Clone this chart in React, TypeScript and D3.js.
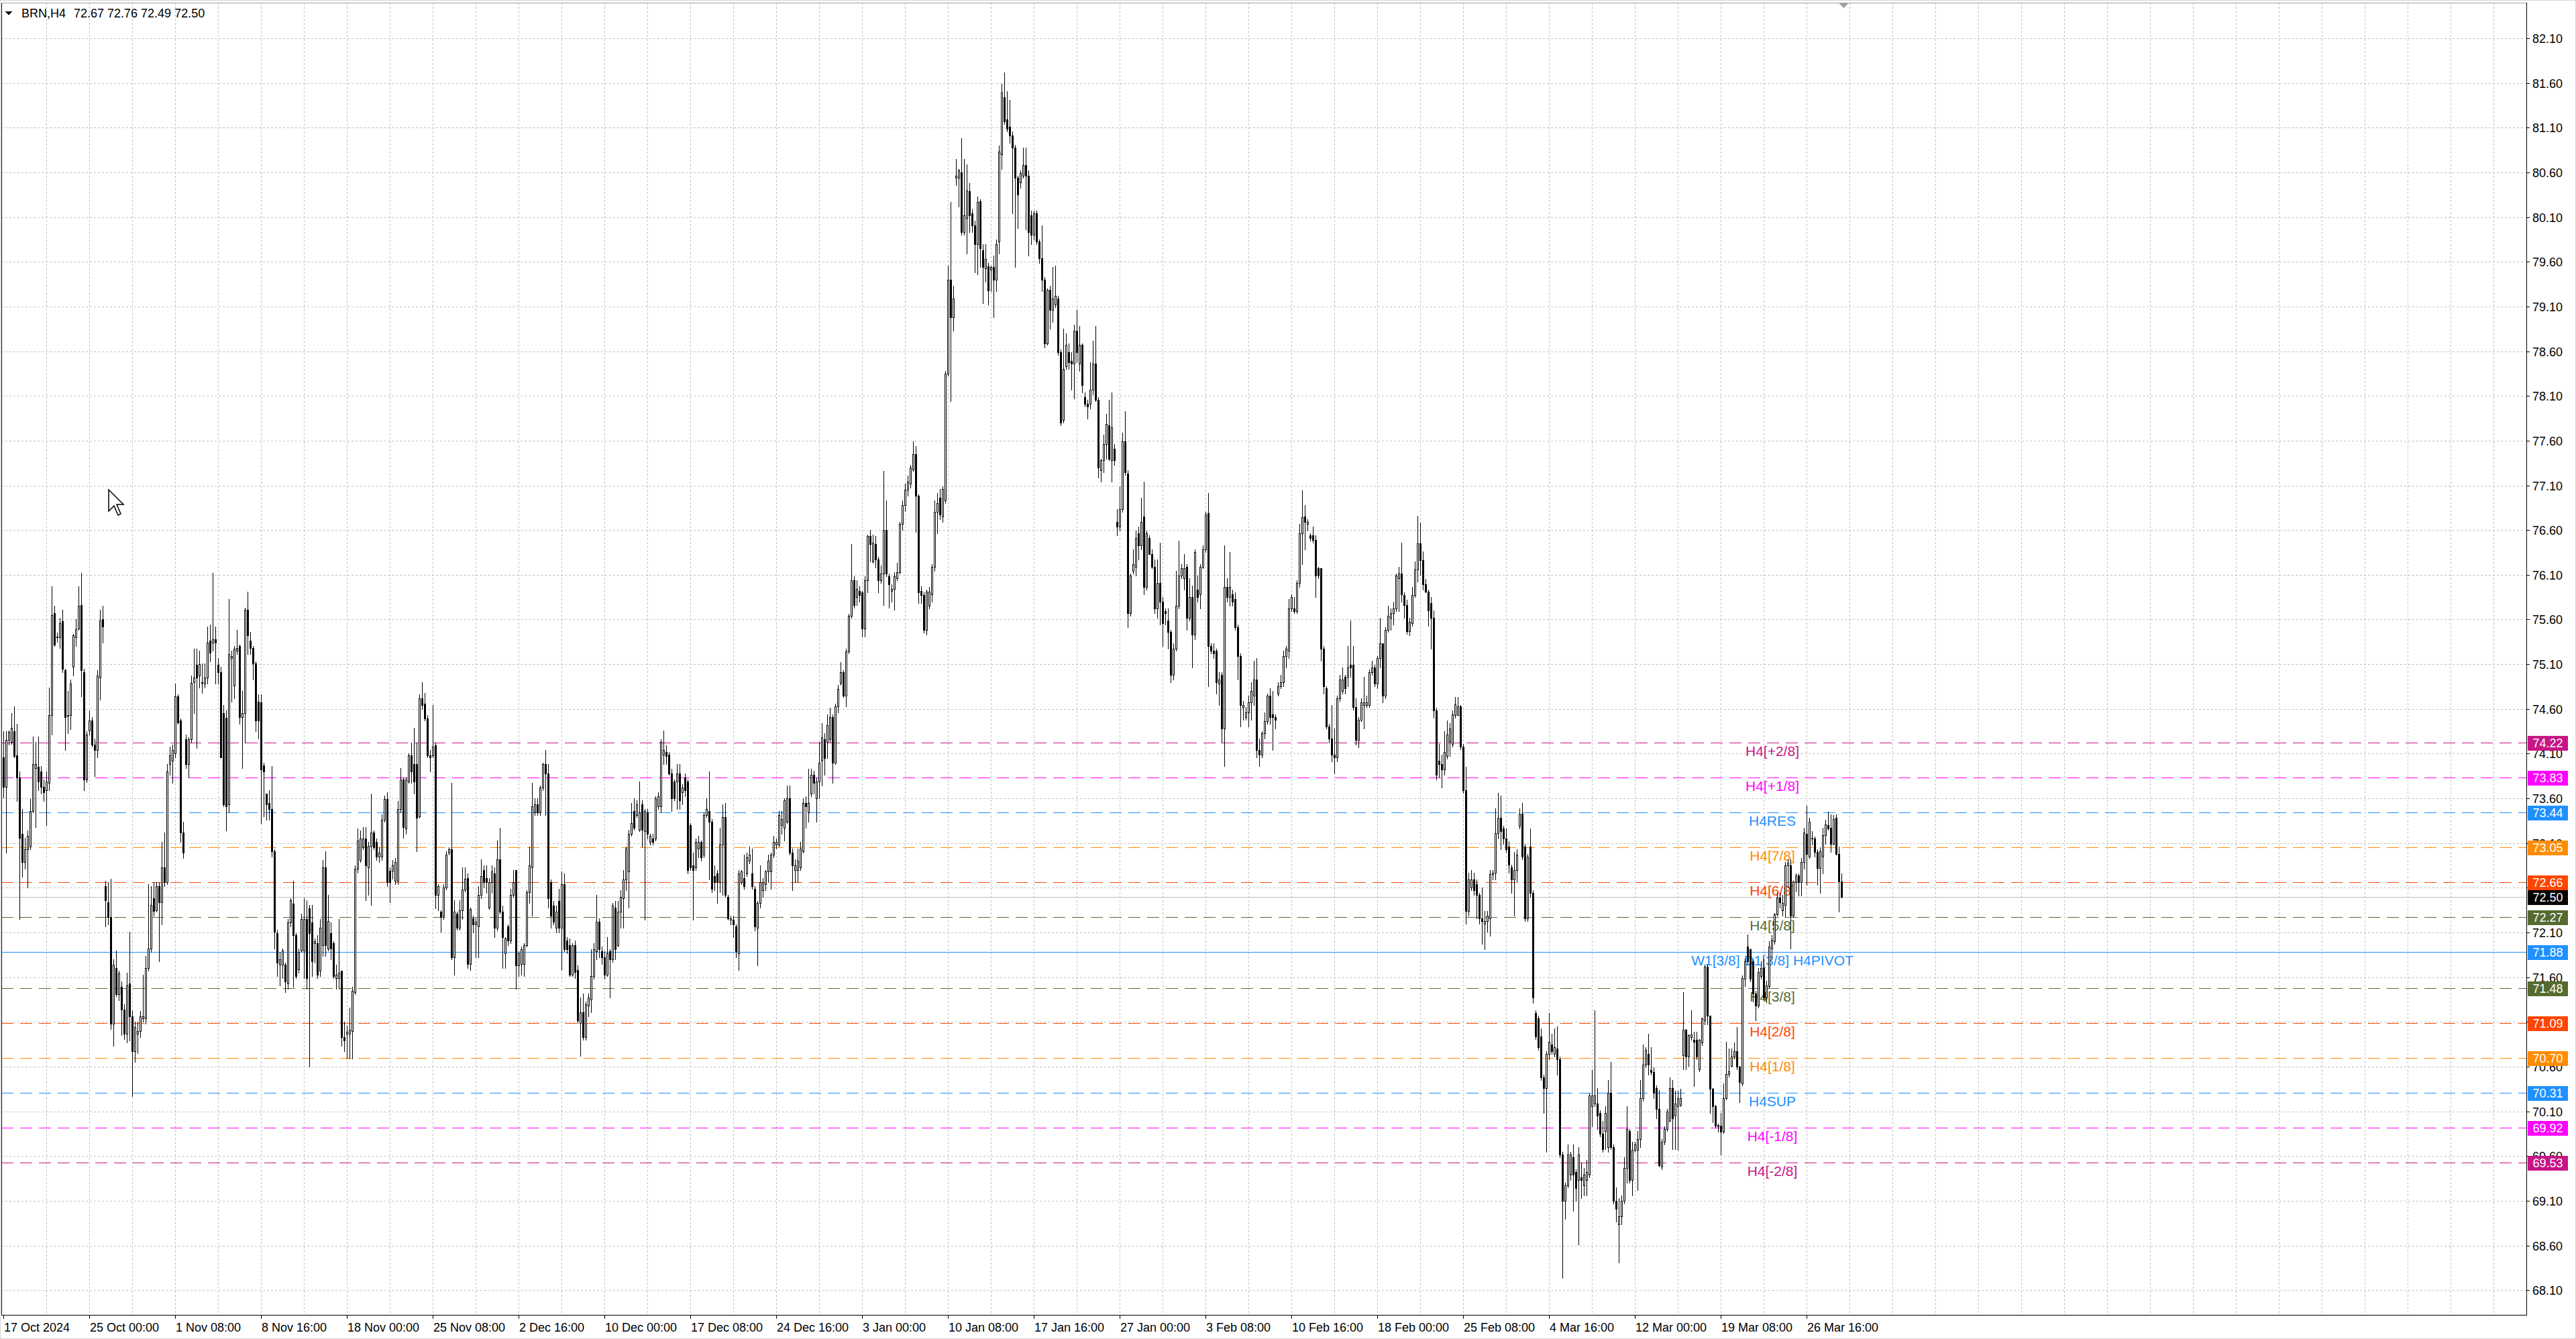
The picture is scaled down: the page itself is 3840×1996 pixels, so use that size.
import React from 'react';
import * as d3 from 'd3';

type Bar = [number, number, number, number]; // open, high, low, close

// BRN H4 candles, 17 Oct 2024 .. 28 Mar 2025
const segOctRoll: Bar[] = [
  [74.06,74.35,73.61,73.73],[73.73,74.35,72.99,74.25],[74.25,74.36,74.20,74.34],[74.23,74.55,74.21,74.39],
  [74.35,74.63,74.06,74.07],[74.08,74.43,73.57,73.83],[73.83,73.90,72.25,73.16],[73.20,73.48,72.72,72.89],
  [72.89,73.16,72.81,73.03],[73.03,73.24,72.60,73.18],[73.07,73.59,73.03,73.46],[73.46,74.29,73.44,73.98],
  [73.94,74.23,73.28,73.98],[73.95,74.29,73.69,73.79],[73.90,73.96,73.65,73.73],[73.73,73.81,73.57,73.67],
  [73.69,73.90,73.30,73.79],[73.77,74.84,73.69,74.53],[74.53,75.97,74.31,75.65],[75.67,75.75,75.30,75.32],
  [75.41,75.45,75.35,75.40],[75.40,75.62,75.28,75.56],[75.58,75.71,75.01,75.05],[75.03,75.05,74.14,74.51],
  [74.53,74.80,74.33,74.52],[74.53,74.93,74.37,74.88],[75.07,75.44,74.97,75.42],[75.40,75.60,75.30,75.49],
  [75.50,75.97,75.48,75.75],[75.76,76.12,74.74,75.03],[75.01,75.05,73.69,73.81],[73.81,74.35,73.78,74.31],
  [74.36,74.58,74.31,74.47],[74.47,74.51,74.18,74.20],[74.20,74.27,73.85,74.14],[74.14,75.03,74.06,74.97],
  [74.95,75.71,74.70,75.59],[75.60,75.75,75.34,75.52],
];

const segNovDec: Bar[] = [
  [72.62,72.68,72.17,72.46],[72.44,72.66,72.19,72.27],[72.27,72.70,71.02,71.08],[71.08,71.80,70.83,71.74],
  [71.70,71.90,71.39,71.41],[71.41,71.67,71.34,71.64],[71.49,71.55,70.95,71.24],[71.24,71.30,70.91,70.97],
  [70.97,71.65,70.87,71.51],[71.53,72.11,70.89,71.16],[71.16,71.22,70.27,70.77],[70.77,71.10,70.65,71.04],
  [70.97,71.10,70.75,71.00],[71.00,71.22,70.93,71.16],[71.14,71.63,71.10,71.16],[71.14,71.84,71.08,71.70],
  [71.70,72.64,71.67,71.92],[71.92,72.62,71.88,72.41],[72.48,72.66,72.29,72.34],[72.35,72.66,72.33,72.62],
  [72.62,72.66,71.78,72.44],[72.44,73.11,72.19,72.83],[72.83,73.22,72.62,72.66],[72.66,73.98,72.64,73.90],
  [73.98,74.18,73.86,74.08],[74.02,74.20,73.77,74.14],[74.10,74.88,74.06,74.74],[74.74,74.76,74.43,74.45],
  [74.47,74.49,73.11,73.22],[73.22,73.34,72.93,72.99],[74.26,74.31,73.94,73.98],[73.98,74.28,73.83,74.26],
  [74.26,74.97,74.22,74.89],[74.90,75.27,74.55,74.95],[75.09,75.27,74.16,74.95],[74.97,75.25,74.84,75.10],
  [74.90,75.11,74.78,74.89],[74.88,75.11,74.84,74.95],[74.95,75.52,74.88,75.34],[75.36,75.54,75.13,75.23],
  [75.34,76.12,75.25,75.38],[75.38,75.52,74.88,75.34],[75.09,75.17,74.88,75.01],[75.01,75.07,74.06,74.06],
  [74.55,74.64,73.51,73.53],[74.50,74.58,73.24,73.51],[73.53,75.83,73.44,75.21],[75.17,75.25,74.68,75.19],
  [74.86,75.30,74.72,75.27],[75.25,75.48,75.21,75.28],[75.30,75.32,74.43,74.51],[74.51,74.80,73.94,74.55],
  [74.55,75.73,74.22,75.71],[75.71,75.91,75.21,75.42],[75.36,75.46,75.21,75.28],[75.28,75.30,74.93,75.11],
  [75.11,75.13,74.35,74.47],[74.68,74.76,74.27,74.47],[74.67,74.76,73.32,73.92],[73.97,74.00,73.40,73.90],
  [73.65,73.65,73.36,73.53],[73.55,73.69,73.36,73.48],[73.48,73.96,72.95,73.01],[73.01,73.03,71.92,72.11],
  [72.09,72.13,71.61,71.76],[71.74,71.88,71.51,71.80],[71.74,71.92,71.59,71.90],[71.74,71.76,71.43,71.55],
  [71.53,72.25,71.47,72.21],[72.21,72.48,72.17,72.46],[72.42,72.68,71.49,72.07],[72.07,72.09,71.59,71.61],
  [71.69,71.92,71.65,71.88],[71.90,72.31,71.88,72.25],[71.90,72.48,71.59,72.25],[72.25,72.46,71.47,71.59],
  [72.37,72.41,70.60,72.09],[72.21,72.41,71.61,71.78],[71.98,72.03,71.76,72.00],[71.98,72.07,71.59,71.63],
  [71.67,72.25,71.61,72.15],[71.96,72.91,71.84,72.83],[72.83,73.01,71.84,71.96],[71.92,72.52,71.90,72.23],
  [72.09,72.21,71.80,71.92],[71.98,72.00,71.59,71.61],[71.59,71.74,71.47,71.63],[71.59,72.25,71.47,71.65],
  [71.67,71.67,70.83,70.93],[70.93,71.10,70.77,70.89],[70.97,71.06,70.69,70.99],[70.97,71.26,70.69,71.01],
  [71.00,71.49,70.69,71.45],[71.43,72.85,71.41,72.81],[72.81,73.26,72.77,73.13],[72.91,73.24,72.89,73.15],
  [73.05,73.28,73.03,73.15],[73.15,73.28,72.46,72.85],[72.83,73.11,72.52,73.07],[73.07,73.65,72.41,73.22],
  [73.22,73.24,73.03,73.05],[73.11,73.15,72.91,72.95],[72.95,73.05,72.89,72.99],[72.95,73.42,72.91,73.36],
  [73.36,73.63,73.34,73.59],[73.59,73.67,72.62,72.66],[72.79,72.83,72.44,72.66],[72.79,72.91,72.70,72.85],
  [72.68,72.93,72.64,72.89],[72.68,73.57,72.64,73.48],[73.48,73.94,73.44,73.81],[73.81,73.83,73.16,73.28],
  [73.26,73.83,73.20,73.81],[73.79,74.10,73.77,74.08],[74.08,74.22,73.77,73.90],[73.98,74.39,73.65,73.79],
  [73.98,74.22,73.01,73.38],[73.40,74.76,73.38,74.72],[74.72,74.90,74.60,74.64],[74.66,74.78,74.47,74.49],
  [74.49,74.53,74.06,74.08],[74.08,74.14,73.90,74.06],[74.08,74.64,74.06,74.18],[74.19,74.22,72.37,72.52],
  [72.52,72.64,72.35,72.62],[72.33,72.35,72.11,72.27],[72.29,72.64,72.25,72.60],[72.60,73.01,72.58,72.97],
  [72.99,73.05,72.97,73.03],[73.03,73.77,71.80,71.82],[71.82,72.46,71.63,72.33],[72.31,72.33,72.13,72.15],
  [72.15,72.46,72.13,72.35],[72.35,72.83,72.25,72.58],[72.58,72.83,72.56,72.70],
];

const segDecJan: Bar[] = [
  [72.71,72.76,71.70,71.75],[71.75,72.38,71.68,72.36],[72.26,72.29,72.10,72.19],[72.19,72.26,71.82,72.22],
  [72.17,72.62,71.82,72.52],[72.52,72.92,72.48,72.73],[72.80,72.85,72.60,72.66],[72.71,72.85,72.54,72.66],
  [72.38,72.71,72.36,72.66],[72.66,72.85,72.54,72.78],[72.76,72.83,72.05,72.15],[72.15,73.13,72.12,72.92],
  [72.92,73.27,72.31,72.33],[72.33,72.40,71.70,72.05],[71.87,72.05,71.70,72.03],[72.17,72.19,71.96,72.01],
  [72.01,72.59,71.98,72.52],[72.52,72.80,72.50,72.66],[72.80,72.80,71.47,71.73],[71.73,71.89,71.61,71.87],
  [71.75,71.94,71.63,71.91],[71.75,71.98,71.61,71.96],[71.96,72.57,71.94,72.55],[72.55,73.06,72.43,72.85],
  [72.83,73.77,72.29,73.51],[73.44,73.60,73.41,73.53],[73.53,73.60,73.41,73.44],[73.44,73.74,73.41,73.72],
  [73.72,74.00,73.69,73.98],[73.98,74.14,73.41,73.88],[73.88,73.98,72.38,72.48],[72.66,72.69,72.15,72.29],
  [72.40,72.45,72.19,72.22],[72.15,72.40,72.10,72.33],[72.45,72.59,72.10,72.15],[72.15,72.78,71.68,72.64],
  [72.64,72.76,71.89,71.91],[72.01,72.05,71.87,71.91],[71.96,72.03,71.61,71.63],[71.63,71.98,71.61,71.96],
  [71.96,72.01,71.59,71.66],[71.68,71.73,71.09,71.12],[71.09,71.37,70.72,71.21],[71.21,71.42,70.90,70.93],
  [70.93,71.33,70.90,71.30],[71.28,71.42,71.16,71.37],[71.35,71.91,71.21,71.61],[71.61,71.98,71.58,71.91],
  [71.89,72.52,71.80,72.22],[72.22,72.26,71.82,71.91],[71.89,71.94,71.75,71.82],[71.82,71.89,71.58,71.63],
  [71.63,72.05,71.61,71.87],[71.89,71.91,71.37,71.80],[71.80,72.43,71.77,72.40],[72.38,72.45,71.80,71.91],
  [71.96,72.45,71.94,72.33],[72.33,72.57,72.15,72.50],[72.48,72.80,72.15,72.69],[72.69,73.06,72.57,73.04],
  [72.78,73.25,72.38,73.20],[73.20,73.55,73.18,73.32],[73.46,73.60,73.25,73.27],[73.41,73.58,73.39,73.53],
  [73.25,73.79,73.23,73.44],[73.53,73.58,73.06,73.25],[73.23,73.48,72.24,73.46],[73.44,73.48,73.15,73.20],
  [73.11,73.20,73.08,73.18],[73.15,73.20,73.08,73.11],[73.15,73.62,73.13,73.60],[73.51,73.67,73.48,73.62],
  [73.51,74.26,73.44,74.23],[74.09,74.36,73.98,74.14],[74.12,74.19,73.98,74.07],[74.09,74.12,73.86,73.88],
  [73.88,73.93,73.46,73.60],[73.79,73.81,73.58,73.60],[73.79,73.98,73.48,73.88],[73.88,73.98,73.48,73.58],
  [73.67,73.76,73.53,73.72],[73.83,73.88,73.62,73.69],[73.79,73.81,72.76,72.80],[73.30,73.32,72.80,72.83],
  [72.85,72.99,72.24,72.80],[72.83,73.15,72.80,73.11],[73.04,73.18,72.94,73.11],[73.11,73.13,72.90,72.94],
  [72.97,73.44,72.94,73.41],[73.41,73.60,73.39,73.48],[73.46,73.90,72.69,73.34],[73.34,73.37,72.55,72.59],
  [72.73,72.85,72.57,72.66],[72.76,72.80,72.43,72.66],[72.66,73.27,72.55,73.08],[73.08,73.53,72.52,73.39],
  [73.39,73.55,72.50,72.52],[72.50,72.52,72.24,72.26],[72.24,72.29,72.19,72.26],[72.24,72.29,72.05,72.19],
  [72.17,72.19,71.82,71.89],[71.87,72.80,71.68,72.76],[72.66,72.80,72.64,72.78],[72.71,72.97,72.59,72.62],
  [72.76,72.99,72.73,72.94],[72.90,73.06,72.87,72.97],[72.76,73.04,72.59,72.62],[72.59,72.62,72.12,72.17],
  [72.15,72.45,71.73,72.43],[72.43,72.85,72.38,72.66],[72.57,72.71,72.50,72.66],[72.64,72.80,72.57,72.78],
  [72.78,72.97,72.66,72.90],[72.78,72.99,72.59,72.97],[72.97,73.18,72.94,73.11],[73.08,73.15,73.04,73.11],
  [73.08,73.46,73.06,73.41],[73.30,73.46,73.20,73.37],[73.27,73.60,73.13,73.58],[73.34,73.74,73.32,73.60],
  [73.60,73.74,72.97,72.99],[72.99,73.04,72.57,72.85],[72.80,72.92,72.66,72.85],[72.80,73.04,72.66,72.90],
  [72.83,73.11,72.80,73.04],[73.01,73.60,72.99,73.55],[73.55,73.62,73.27,73.51],[73.44,73.93,73.34,73.55],
  [73.65,73.93,73.62,73.86],[73.86,73.91,73.65,73.77],[73.60,73.83,73.34,73.79],[73.79,74.23,73.60,74.00],
  [74.02,74.44,73.74,74.28],[74.26,74.33,73.86,74.05],[74.23,74.54,74.05,74.42],[74.26,74.61,74.23,74.51],
  [74.51,74.54,73.77,74.00],[74.00,74.66,73.98,74.63],[74.63,74.87,74.56,74.82],[74.89,75.12,74.87,75.01],
  [75.01,75.03,74.73,74.75],[74.75,75.27,74.63,75.24],[75.24,75.66,75.22,75.64],[75.64,76.44,75.62,76.04],
  [76.04,76.08,75.73,75.76],[75.85,76.04,75.76,75.94],[75.92,75.97,75.80,75.87],[75.90,75.92,75.41,75.50],
  [75.50,76.08,75.41,76.04],[76.04,76.55,75.90,76.53],[76.53,76.60,76.25,76.44],[76.25,76.55,76.23,76.46],
  [76.44,76.53,76.18,76.27],[76.27,76.30,75.90,76.04],[76.04,76.20,76.01,76.11],[76.11,77.26,75.76,76.60],
  [76.60,76.93,76.08,76.11],[76.08,76.11,75.73,75.99],[75.92,75.99,75.80,75.94],[75.94,76.13,75.71,76.08],
  [76.06,76.23,76.04,76.13],[76.13,76.69,76.11,76.67],[76.67,76.93,76.60,76.88],[76.88,77.12,76.81,77.05],
  [77.05,77.21,76.98,77.14],[77.12,77.33,77.07,77.30],[77.28,77.59,77.26,77.45],[77.45,77.54,76.58,76.98],
  [76.98,77.00,75.78,75.90],[75.92,75.97,75.78,75.87],[75.87,75.90,75.45,75.48],
];

const segJanFeb: Bar[] = [
  [75.48,75.93,75.43,75.91],[75.75,75.96,75.72,75.91],[75.88,76.22,75.80,76.19],[76.19,76.93,76.14,76.80],
  [76.80,77.01,76.56,76.90],[76.96,77.06,76.72,76.77],[76.75,77.09,76.69,77.06],[76.93,78.38,76.90,78.35],
  [78.35,79.56,78.33,79.40],[79.40,80.27,78.04,78.98],[78.98,79.33,78.83,79.19],[80.54,80.75,80.46,80.56],
  [80.54,80.64,80.22,80.62],[80.60,80.98,79.90,79.93],[79.93,80.75,79.90,80.12],[80.09,80.69,79.69,80.40],
  [80.39,80.48,79.93,80.12],[80.14,80.19,79.93,80.01],[80.01,80.06,79.48,79.80],[79.80,80.33,79.46,80.27],
  [80.28,80.30,79.54,79.75],[79.73,79.80,79.14,79.54],[79.53,79.80,79.38,79.63],[79.55,79.59,79.12,79.28],
  [79.51,79.56,79.27,79.54],[79.54,79.67,78.98,79.40],[79.40,79.85,79.27,79.80],[79.83,80.90,79.69,80.83],
  [80.80,81.59,80.64,81.49],[81.44,81.72,81.14,81.17],[81.19,81.51,81.06,81.09],[81.11,81.41,80.93,81.01],
  [81.01,81.06,80.14,80.88],[80.88,80.91,79.54,80.54],[80.54,80.56,79.98,80.35],[80.49,80.62,80.43,80.59],
  [80.56,80.88,80.54,80.68],[80.68,80.88,79.96,80.56],[80.56,80.62,79.67,79.93],[80.12,80.17,79.80,79.90],
  [79.90,80.17,79.85,80.14],[80.14,80.17,79.80,79.83],[79.83,79.85,79.59,79.64],[79.64,80.01,79.27,79.40],
  [79.40,79.43,78.64,78.69],[78.69,79.30,78.67,79.29],[79.29,79.33,78.85,79.06],[79.06,79.54,78.93,79.19],
  [79.12,79.56,79.09,79.22],[79.19,79.22,78.56,78.59],[78.59,78.62,77.77,77.80],[77.83,78.85,77.80,78.40],
  [78.43,78.80,78.40,78.67],[78.59,78.69,78.40,78.48],[78.49,78.59,78.17,78.46],[78.46,78.90,78.07,78.83],
  [78.83,79.06,78.48,78.59],[78.46,78.88,78.38,78.67],[78.67,78.69,78.14,78.22],[78.09,78.14,77.98,78.01],
  [78.01,78.06,77.85,77.98],[78.01,78.48,77.96,78.17],[78.17,78.72,78.12,78.46],[78.46,78.88,78.04,78.06],
  [78.06,78.09,77.19,77.30],[77.27,77.40,77.14,77.38],[77.38,77.67,77.25,77.56],[77.56,77.90,77.40,77.79],
  [77.77,78.06,77.38,77.40],[77.38,78.14,77.14,77.75],[77.51,77.56,77.33,77.38],[76.69,76.83,76.54,76.64],
  [76.64,77.09,76.59,76.83],[76.83,77.69,76.80,77.59],[77.59,77.93,77.22,77.25],[77.23,77.27,75.51,75.67],
  [75.67,76.11,75.64,76.09],[76.14,76.38,76.11,76.22],[76.19,76.59,76.09,76.51],[76.56,76.64,76.27,76.43],
  [76.43,76.96,76.38,76.69],[76.75,77.14,75.88,75.96],[75.96,76.59,75.93,76.56],[76.51,76.54,76.33,76.33],
  [76.33,76.38,76.17,76.19],[76.19,76.27,75.67,75.72],[75.72,76.27,75.62,76.01],[76.01,76.46,75.54,75.80],
  [75.80,75.85,75.30,75.56],[75.69,75.72,75.54,75.67],[75.59,75.72,75.27,75.46],[75.46,75.48,74.90,74.98],
  [74.98,75.33,74.93,75.27],[75.27,76.14,75.25,75.75],[75.75,76.48,75.72,76.09],[76.09,76.22,76.06,76.17],
  [76.06,76.33,75.93,76.17],[76.19,76.22,75.48,75.62],[75.62,76.06,75.59,75.85],[75.85,75.98,75.06,75.43],
  [75.43,76.38,75.38,76.35],[75.93,76.09,75.80,75.85],[75.88,76.22,75.72,76.19],[76.19,76.43,76.17,76.38],
  [76.38,76.80,76.35,76.77],[76.79,77.01,74.85,75.30],[75.30,75.33,75.22,75.25],[75.25,75.33,75.17,75.22],
  [75.25,75.27,74.77,74.90],[74.88,75.01,74.64,74.93],[74.98,75.01,74.22,74.38],[74.38,76.43,73.96,75.96],
  [75.96,76.06,75.80,75.85],[75.85,76.35,75.75,75.96],[75.88,75.93,75.75,75.80],[75.83,75.90,75.48,75.51],
  [75.51,75.54,74.93,75.19],[75.19,75.22,74.40,74.64],[74.62,74.69,74.48,74.64],[74.51,74.62,74.48,74.56],
  [74.56,74.75,74.40,74.67],[74.67,74.90,74.48,74.80],[74.75,75.14,74.64,74.93],[74.93,75.17,74.06,74.14],
  [74.14,74.27,73.96,74.09],[74.09,74.35,74.06,74.33],[74.33,74.56,74.27,74.46],[74.46,74.77,74.43,74.75],
  [74.75,74.83,74.43,74.51],[74.54,74.80,74.14,74.51],[74.51,74.54,74.38,74.48],[74.77,74.90,74.75,74.85],
  [74.85,74.98,74.83,74.90],[74.90,75.25,74.85,75.19],[75.19,75.30,75.06,75.27],[75.25,75.83,75.17,75.72],
  [75.72,75.88,75.69,75.85],[75.72,75.85,75.67,75.69],[75.69,76.04,75.67,76.01],[76.01,76.67,75.96,76.56],
  [76.56,77.04,76.22,76.74],[76.75,76.88,76.38,76.69],[76.67,76.72,76.59,76.69],[76.54,76.56,76.48,76.51],
  [76.54,76.64,76.46,76.49],[76.49,76.54,75.85,76.09],[76.17,76.19,76.06,76.09],[76.17,76.17,75.14,75.27],
  [75.27,75.30,74.77,74.85],[74.83,74.85,74.38,74.40],[74.40,74.43,74.22,74.27],[74.27,74.64,74.01,74.09],
  [74.09,74.38,73.88,74.06],[74.06,74.75,74.01,74.72],[74.72,74.98,74.69,74.93],[74.80,75.06,74.77,74.93],
  [74.96,74.98,74.77,74.83],[74.96,75.30,74.85,75.06],[75.09,75.59,74.96,75.06],[75.09,75.30,74.59,74.62],
  [74.62,74.72,74.20,74.25],[74.25,74.51,74.17,74.48],[74.48,74.72,74.46,74.67],[74.64,74.96,74.38,74.67],
  [74.64,74.75,74.62,74.67],[74.64,75.04,74.62,75.01],[75.01,75.14,74.98,75.06],[75.06,75.09,74.85,74.88],
  [74.88,75.19,74.83,75.17],[75.17,75.62,75.06,75.33],[75.33,75.33,74.67,74.75],[74.75,75.51,74.72,75.48],
  [75.48,75.75,75.46,75.64],[75.62,75.72,75.48,75.67],[75.67,75.80,75.54,75.72],[75.72,76.11,75.69,76.09],
  [76.06,76.19,75.69,76.11],[76.11,76.46,75.80,75.88],
];

const segFebMar: Bar[] = [
  [75.87,75.90,75.62,75.76],[75.76,75.82,75.44,75.47],[75.47,75.62,75.42,75.57],[75.56,75.96,75.53,75.87],
  [75.87,76.25,75.85,76.16],[76.16,76.76,76.02,76.45],[76.45,76.68,76.10,76.26],[76.26,76.36,75.93,75.99],
  [75.99,76.05,75.90,75.91],[75.91,75.93,75.53,75.70],[75.78,75.85,75.27,75.62],[75.62,75.70,74.50,74.58],
  [74.58,74.61,73.81,73.86],[74.02,74.21,73.84,73.98],[73.98,74.09,73.72,73.92],[73.92,74.35,73.86,74.12],
  [74.07,74.47,74.04,74.31],[74.24,74.44,74.07,74.38],[74.21,74.58,74.18,74.54],[74.53,74.73,74.50,74.65],
  [74.53,74.73,74.53,74.63],[74.63,74.64,74.15,74.18],[74.18,74.21,73.66,73.69],[73.69,73.95,72.20,72.34],
  [72.34,72.77,72.29,72.69],[72.60,72.80,72.57,72.69],[72.69,72.77,72.52,72.57],[72.64,72.69,72.26,72.52],
  [72.52,72.54,72.20,72.26],[72.26,72.60,71.97,72.23],[72.20,72.34,71.91,72.23],[72.23,72.34,72.11,72.29],
  [72.26,72.80,72.06,72.75],[72.75,72.80,72.69,72.77],[72.77,73.49,72.69,73.21],[73.21,73.66,73.15,73.38],
  [73.38,73.63,73.03,73.23],[73.26,73.29,73.09,73.15],[73.15,73.26,73.00,73.03],[73.06,73.12,72.77,72.86],
  [72.83,72.86,72.54,72.69],[72.69,73.00,72.29,72.80],[72.80,73.03,72.66,72.97],[73.29,73.49,73.26,73.43],
  [73.43,73.55,72.92,72.95],[73.06,73.09,72.23,72.26],[72.26,72.98,72.23,72.95],[73.06,73.26,72.50,72.54],
  [72.54,72.57,71.31,71.37],[71.20,71.23,70.91,70.94],[71.14,71.17,70.79,70.82],[70.94,71.03,70.45,70.48],
  [70.48,70.51,70.08,70.36],[70.36,70.77,69.65,70.74],[70.74,71.20,70.68,70.88],[70.85,70.97,70.74,70.77],
  [70.74,71.03,70.71,70.82],[70.80,71.05,70.51,70.68],[70.68,70.71,69.59,69.62],[69.62,69.65,68.24,69.10],
  [69.10,69.30,68.90,69.27],[69.27,69.73,69.25,69.62],[69.39,69.65,69.33,69.62],[69.59,69.73,68.99,69.39],
  [69.42,69.45,69.10,69.24],[69.33,69.70,68.61,69.62],[69.36,69.53,69.13,69.33],[69.27,69.47,69.16,69.39],
  [69.33,69.56,69.16,69.42],[69.39,70.30,69.36,70.28],[70.16,70.56,69.93,70.28],[70.19,71.23,70.16,70.28],
  [70.19,70.36,69.90,70.05],[70.08,70.11,69.82,69.85],[69.85,69.99,69.65,69.68],[69.88,70.16,69.68,70.08],
  [69.70,70.45,69.65,70.31],[70.31,70.65,69.68,69.70],[69.70,69.73,69.07,69.10],[69.10,69.25,68.87,69.01],
  [68.84,69.13,68.41,68.93],[68.93,69.16,68.84,69.10],[69.10,69.59,69.07,69.47],[69.47,70.16,69.30,69.90],
  [69.88,69.90,69.30,69.33],[69.33,69.76,69.16,69.67],[69.67,69.76,69.65,69.73],[69.67,69.88,69.22,69.79],
  [69.79,70.45,69.70,70.25],[70.25,70.85,70.22,70.62],[70.62,70.82,70.59,70.79],[70.74,70.97,70.51,70.62],
  [70.56,70.82,70.51,70.54],[70.54,70.59,70.25,70.31],[70.36,70.39,70.02,70.13],[70.13,70.34,69.48,69.50],
  [69.48,69.79,69.45,69.76],[69.76,69.93,69.73,69.90],[69.90,70.13,69.88,70.10],[69.99,70.48,69.99,70.36],
  [70.36,70.45,69.68,70.02],[70.05,70.33,69.68,70.19],
];

const segMarch: Bar[] = [
  [70.16,70.33,69.67,70.25],[70.17,70.35,70.16,70.25],[70.73,71.43,70.57,71.01],[71.01,71.02,70.57,70.71],
  [70.71,70.96,70.61,70.95],[70.93,71.23,70.90,70.96],[70.90,70.99,70.38,70.88],[70.90,70.99,70.68,70.71],
  [70.57,70.91,70.55,70.90],[70.87,71.15,70.84,71.14],[71.12,71.74,71.07,71.72],[71.72,71.74,71.07,71.17],
  [71.17,71.17,70.08,70.35],[70.35,70.36,69.98,70.16],[70.16,70.17,69.92,69.94],[69.93,69.96,69.87,69.95],
  [69.94,70.08,69.62,69.87],[69.87,70.41,69.86,70.25],[70.25,70.88,70.23,70.52],[70.52,70.80,70.49,70.55],
  [70.61,70.80,70.60,70.71],[70.71,70.87,70.69,70.77],[70.77,71.04,70.57,70.60],[70.60,70.61,70.20,70.43],
  [70.41,71.62,70.39,71.59],[71.58,71.81,71.50,71.78],[71.94,72.08,71.75,71.78],[71.91,71.92,71.55,71.58],
  [71.78,71.80,71.33,71.42],[71.42,71.45,71.12,71.28],[71.28,71.70,71.26,71.66],[71.61,71.78,71.58,71.70],
  [71.70,71.81,71.34,71.37],[71.37,71.56,71.32,71.51],[71.50,72.00,71.48,71.94],[71.92,72.07,71.81,72.02],
  [72.00,72.32,71.97,72.30],[72.30,72.54,72.29,72.49],[72.49,72.54,72.38,72.44],[72.35,72.52,72.29,72.43],
  [72.41,72.89,72.27,72.85],[72.85,72.92,72.60,72.88],[72.85,72.92,71.92,72.29],[72.29,72.68,72.27,72.67],
  [72.66,72.76,72.56,72.74],[72.74,72.76,72.51,72.66],[72.66,72.93,72.51,72.89],[72.89,73.27,72.81,73.22],
  [73.20,73.52,72.63,72.98],[72.95,73.38,72.93,73.34],[73.16,73.23,73.08,73.15],[73.15,73.17,72.95,73.00],
  [73.00,73.03,72.63,72.82],[72.82,73.05,72.54,73.01],[72.95,73.27,72.76,73.19],[73.19,73.36,73.09,73.31],
  [73.30,73.45,73.25,73.26],[73.27,73.42,73.00,73.09],[73.09,73.41,73.08,73.37],[73.38,73.42,72.97,72.98],
  [72.98,73.06,72.33,72.67],[72.67,72.76,72.49,72.50],
];

const bars: Bar[] = [...segOctRoll, ...segNovDec, ...segDecJan, ...segJanFeb, ...segFebMar, ...segMarch];

const priceTicks = [82.10,81.60,81.10,80.60,80.10,79.60,79.10,78.60,78.10,77.60,77.10,76.60,76.10,75.60,75.10,
  74.60,74.10,73.60,73.10,72.60,72.10,71.60,71.10,70.60,70.10,69.60,69.10,68.60,68.10];

const timeLabels = ['17 Oct 2024','25 Oct 00:00','1 Nov 08:00','8 Nov 16:00','18 Nov 00:00','25 Nov 08:00',
  '2 Dec 16:00','10 Dec 00:00','17 Dec 08:00','24 Dec 16:00','3 Jan 00:00','10 Jan 08:00','17 Jan 16:00',
  '27 Jan 00:00','3 Feb 08:00','10 Feb 16:00','18 Feb 00:00','25 Feb 08:00','4 Mar 16:00','12 Mar 00:00',
  '19 Mar 08:00','26 Mar 16:00'];

const levelNames = ['H4[+2/8]','H4[+1/8]','H4RES','H4[7/8]','H4[6/8]','H4[5/8]','W1[3/8] D1[3/8] H4PIVOT',
  'H4[3/8]','H4[2/8]','H4[1/8]','H4SUP','H4[-1/8]','H4[-2/8]'];
const levelValues = [74.22,73.83,73.44,73.05,72.66,72.27,71.88,71.48,71.09,70.70,70.31,69.92,69.53];
const levelColors = ['#C71585','#FF00FF','#1E90FF','#FF8C00','#FF4500','#556B2F','#1E90FF',
  '#556B2F','#FF4500','#FF8C00','#1E90FF','#FF00FF','#C71585'];
const levelSolid = [false,false,false,false,false,false,true,false,false,false,false,false,false];

const symbol = 'BRN,H4';
const lastPrice = 72.50;

const FONT = '"Liberation Sans", Arial, sans-serif';

export default function App() {
  const plotL = 2, plotT = 4, plotR = 3766, plotB = 1960;
  const x = d3.scaleLinear().domain([0, 32]).range([5, 5 + 128]);
  const y = d3.scaleLinear().domain([82.10, 68.10]).range([57, 57 + 14 * 133.3]);
  const py = (p: number) => Math.round(y(p));
  const fmt = d3.format('.2f');

  const vGrid = d3.range(1, 59).map(k => 5 + 64 * k);
  const last = bars[bars.length - 1];

  return (
    <svg width={3840} height={1996} viewBox="0 0 3840 1996"
      style={{ position: 'absolute', left: 0, top: 0, display: 'block', background: '#fff' }}
      shapeRendering="crispEdges">
      <rect x={0} y={0} width={3840} height={1996} fill="#ffffff" />
      <rect x={0.5} y={0.5} width={3839} height={1995} fill="none" stroke="#d4d4d4" />
      {/* grid */}
      {priceTicks.map(t => (
        <line key={'hg' + t} x1={plotL} x2={plotR} y1={py(t) + 0.5} y2={py(t) + 0.5}
          stroke="#c0c0c0" strokeDasharray="3,3" />
      ))}
      {vGrid.map(v => (
        <line key={'vg' + v} x1={v + 0.5} x2={v + 0.5} y1={plotT} y2={plotB}
          stroke="#c0c0c0" strokeDasharray="3,3" />
      ))}
      {/* current price line */}
      <line x1={plotL} x2={plotR} y1={py(lastPrice) + 0.5} y2={py(lastPrice) + 0.5} stroke="#c0c0c0" />
      {/* levels */}
      {levelValues.map((v, i) => (
        <line key={'lv' + i} x1={plotL} x2={plotR} y1={py(v) + 0.5} y2={py(v) + 0.5}
          stroke={levelColors[i]} strokeDasharray={levelSolid[i] ? undefined : '18,10'} />
      ))}
      {levelValues.map((v, i) => (
        <text key={'lt' + i} x={2642} y={py(v) + 20} fill={levelColors[i]} fontSize={21}
          fontFamily={FONT} textAnchor="middle">{levelNames[i]}</text>
      ))}
      {/* candles */}
      {bars.map((b, i) => {
        const [o, h, l, c] = b;
        const cx = Math.round(x(i));
        const yh = py(Math.max(h, o, c)), yl = py(Math.min(l, o, c));
        const top = py(Math.max(o, c)), bot = py(Math.min(o, c));
        const bull = c >= o;
        return (
          <g key={'c' + i}>
            <rect x={cx} y={yh} width={1} height={yl - yh + 1} fill="#000" />
            <rect x={cx - 1} y={top} width={3} height={bot - top + 1} fill="#000" />
            {bull && bot - top > 1 ? (
              <rect x={cx} y={top + 1} width={1} height={bot - top - 1} fill="#fff" />
            ) : null}
          </g>
        );
      })}
      {/* frame */}
      <line x1={plotL + 0.5} x2={plotL + 0.5} y1={plotT} y2={plotB} stroke="#000" />
      <line x1={plotL} x2={plotR} y1={plotT + 0.5} y2={plotT + 0.5} stroke="#a0a0a0" />
      <line x1={plotR + 0.5} x2={plotR + 0.5} y1={plotT} y2={plotB + 1} stroke="#000" />
      <line x1={plotL} x2={plotR + 1} y1={plotB + 0.5} y2={plotB + 0.5} stroke="#000" />
      {/* shift marker */}
      <path d={`M${2741},${plotT + 1} L${2755},${plotT + 1} L${2748},${plotT + 8} Z`} fill="#a0a0a0" />
      {/* price axis */}
      {priceTicks.map(t => (
        <g key={'pt' + t}>
          <line x1={plotR} x2={plotR + 5} y1={py(t) + 0.5} y2={py(t) + 0.5} stroke="#000" />
          <text x={3775} y={py(t) + 7} fontSize={18} fontFamily={FONT} fill="#000">{fmt(t)}</text>
        </g>
      ))}
      <g>
        <rect x={3768} y={py(lastPrice) - 10} width={60} height={22} fill="#000" />
        <text x={3798} y={py(lastPrice) + 7} fontSize={18} fontFamily={FONT} fill="#fff" textAnchor="middle">{fmt(lastPrice)}</text>
      </g>
      {levelValues.map((v, i) => (
        <g key={'lb' + i}>
          <rect x={3768} y={py(v) - 10} width={60} height={22} fill={levelColors[i]} />
          <text x={3798} y={py(v) + 7} fontSize={18} fontFamily={FONT} fill="#fff" textAnchor="middle">{fmt(v)}</text>
        </g>
      ))}
      {/* time axis */}
      {timeLabels.map((t, k) => {
        const tx = Math.round(x(k * 32));
        return (
          <g key={'tl' + k}>
            <line x1={tx + 0.5} x2={tx + 0.5} y1={plotB} y2={plotB + 6} stroke="#000" />
            <text x={tx + 1} y={1985} fontSize={18} fontFamily={FONT} fill="#000">{t}</text>
          </g>
        );
      })}
      {/* header */}
      <path d="M8,17 L18,17 L13,23 Z" fill="#000" />
      <text x={32} y={26} fontSize={18} fontFamily={FONT} fill="#000">{symbol}</text>
      <text x={110} y={26} fontSize={18} fontFamily={FONT} fill="#000">
        {[last[0], last[1], last[2], last[3]].map(fmt).join(' ')}
      </text>
      {/* mouse cursor */}
      <path d="M162,730 L162,762 L170,754 L176,768 L180,766 L174,752 L184,752 Z"
        fill="#fff" stroke="#000" strokeWidth={1.5} shapeRendering="geometricPrecision" />
    </svg>
  );
}
